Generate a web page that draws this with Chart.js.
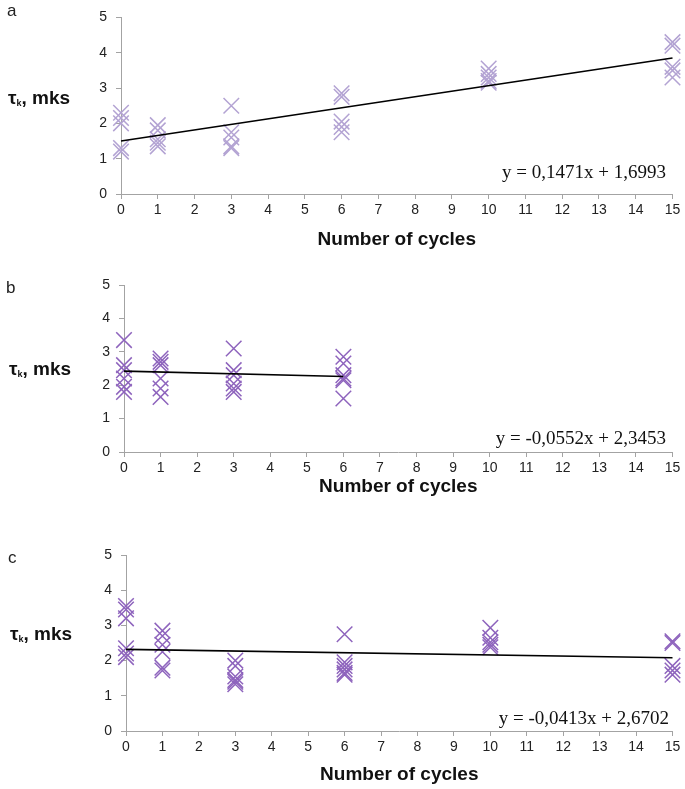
<!DOCTYPE html>
<html><head><meta charset="utf-8">
<script src="https://cdn.jsdelivr.net/npm/chart.js@4.4.1/dist/chart.umd.min.js"></script>
<style>
html,body{margin:0;padding:0;background:#fff;}
#wrap{position:relative;width:685px;height:789px;overflow:hidden;background:#fff;}
canvas{position:absolute;left:0;}
.lbl{position:absolute;white-space:nowrap;line-height:1;transform:translateY(-50%);}
.letter{font-family:'Liberation Sans',Arial,sans-serif;font-size:17px;color:#222;}
.ytitle{font-family:'Liberation Sans',Arial,sans-serif;font-weight:bold;font-size:19px;color:#111;}
.ytitle .sub{font-size:9px;position:relative;top:2px;}
.eq{font-family:'Liberation Serif','Times New Roman',serif;font-size:19px;color:#111;}
</style></head>
<body>
<div id="wrap">
  <canvas id="cA" width="685" height="262" style="top:0px"></canvas>
  <canvas id="cB" width="685" height="258" style="top:262px"></canvas>
  <canvas id="cC" width="685" height="269" style="top:520px"></canvas>
</div>
<script>
// ---------- data ----------
const cycles = [0, 1, 3, 6, 10, 15];
const cyclesB = [0, 1, 3, 6];
const xTicks = [0,1,2,3,4,5,6,7,8,9,10,11,12,13,14,15];
const yTicks = [0,1,2,3,4,5];

// panel a: tau_k values for each number of cycles
const tauA = [
  [2.3, 2.15, 2.0, 1.3, 1.2],
  [1.95, 1.8, 1.55, 1.45, 1.35],
  [2.5, 1.75, 1.6, 1.35, 1.3],
  [2.85, 2.75, 2.05, 1.9, 1.75],
  [3.55, 3.4, 3.3, 3.2, 3.15],
  [4.3, 4.2, 3.6, 3.5, 3.3]
];
// panel b
const tauB = [
  [3.35, 2.6, 2.45, 2.2, 1.95, 1.8],
  [2.8, 2.7, 2.6, 2.2, 1.9, 1.65],
  [3.1, 2.45, 2.3, 2.05, 1.9, 1.8],
  [2.85, 2.65, 2.3, 2.2, 2.15, 1.6]
];
// panel c
const tauC = [
  [3.55, 3.45, 3.2, 2.35, 2.2, 2.1],
  [2.85, 2.7, 2.45, 2.25, 1.8, 1.72],
  [2.0, 1.85, 1.55, 1.45, 1.4, 1.33],
  [2.75, 1.95, 1.85, 1.75, 1.65, 1.6],
  [2.93, 2.65, 2.52, 2.45, 2.38],
  [2.55, 2.5, 1.85, 1.72, 1.6]
];
// trend lines (start / end)
const trendXA = [0, 15], trendYA = [1.5, 3.85];
const trendXB = [0, 6],  trendYB = [2.42, 2.26];
const trendXC = [0, 15], trendYC = [2.32, 2.08];

const panelLetters = ['a', 'b', 'c'];
const equations = ['y = 0,1471x + 1,6993', 'y = -0,0552x + 2,3453', 'y = -0,0413x + 2,6702'];
const xTitle = 'Number of cycles';

// ---------- drawing ----------
const wrap = document.getElementById('wrap');
function addLabel(cls, html, left, cy, right) {
  const d = document.createElement('div');
  d.className = 'lbl ' + cls;
  d.innerHTML = html;
  d.style.top = cy + 'px';
  if (right !== undefined) d.style.right = (685 - right) + 'px'; else d.style.left = left + 'px';
  wrap.appendChild(d);
}

function makePanel(id, xs, tau, tx, ty, color, area, top, height, titleCy) {
  const pts = [];
  xs.forEach((x, i) => tau[i].forEach(v => pts.push({x: x, y: v})));
  const line = tx.map((x, i) => ({x: x, y: ty[i]}));
  const tickFont = {family: "'Liberation Sans', Arial, sans-serif", size: 14};
  const axisCol = '#a3a3a3';
  new Chart(document.getElementById(id), {
    type: 'scatter',
    data: {datasets: [
      {type: 'line', data: line, borderColor: '#000', borderWidth: 1.6, pointRadius: 0, fill: false, order: 1, clip: false},
      {type: 'scatter', data: pts, pointStyle: 'crossRot', pointRadius: 11, pointHoverRadius: 11,
       borderColor: color, backgroundColor: color, borderWidth: 1.5, pointBorderWidth: 1.5, order: 2, clip: false}
    ]},
    options: {
      responsive: false, animation: false, devicePixelRatio: 1,
      layout: {padding: {top: area.top - top, right: 685 - area.right, left: 0, bottom: 0}},
      plugins: {legend: {display: false}, tooltip: {enabled: false}},
      scales: {
        x: {type: 'linear', min: 0, max: 15,
          afterBuildTicks: s => { s.ticks = xTicks.map(v => ({value: v})); },
          ticks: {font: tickFont, color: '#222', padding: 3, maxRotation: 0, autoSkip: false},
          grid: {display: true, drawOnChartArea: false, drawTicks: true, tickLength: 5, color: axisCol},
          border: {color: axisCol, width: 1},
          title: {display: true, text: xTitle, color: '#111',
            font: {family: "'Liberation Sans', Arial, sans-serif", size: 19, weight: 'bold', lineHeight: 1.2},
            padding: {top: 0, bottom: (top + height) - titleCy - 11.4}},
          afterFit: s => { s.height = (top + height) - area.bottom; }
        },
        y: {type: 'linear', min: 0, max: 5,
          afterBuildTicks: s => { s.ticks = yTicks.map(v => ({value: v})); },
          ticks: {font: tickFont, color: '#222', padding: 9},
          grid: {display: true, drawOnChartArea: false, drawTicks: true, tickLength: 5, color: axisCol},
          border: {color: axisCol, width: 1},
          afterFit: s => { s.width = area.left; }
        }
      }
    }
  });
}

makePanel('cA', cycles, tauA, trendXA, trendYA, '#b3a3d3', {left: 121, right: 675, top: 8, bottom: 194}, 0, 262, 240);
makePanel('cB', cyclesB, tauB, trendXB, trendYB, '#8e64bd', {left: 124, right: 673, top: 285, bottom: 452}, 262, 258, 487);
makePanel('cC', cycles, tauC, trendXC, trendYC, '#8e64bd', {left: 126, right: 674, top: 555, bottom: 731}, 520, 269, 775);

const ytitle = '&tau;<span class="sub">k</span>, mks';
addLabel('letter', panelLetters[0], 7, 10);
addLabel('letter', panelLetters[1], 6, 287);
addLabel('letter', panelLetters[2], 8, 557);
addLabel('ytitle', ytitle, 8, 97);
addLabel('ytitle', ytitle, 9, 368);
addLabel('ytitle', ytitle, 10, 633);
addLabel('eq', equations[0], 0, 171, 666);
addLabel('eq', equations[1], 0, 437, 666);
addLabel('eq', equations[2], 0, 717, 669);
</script>
</body></html>
